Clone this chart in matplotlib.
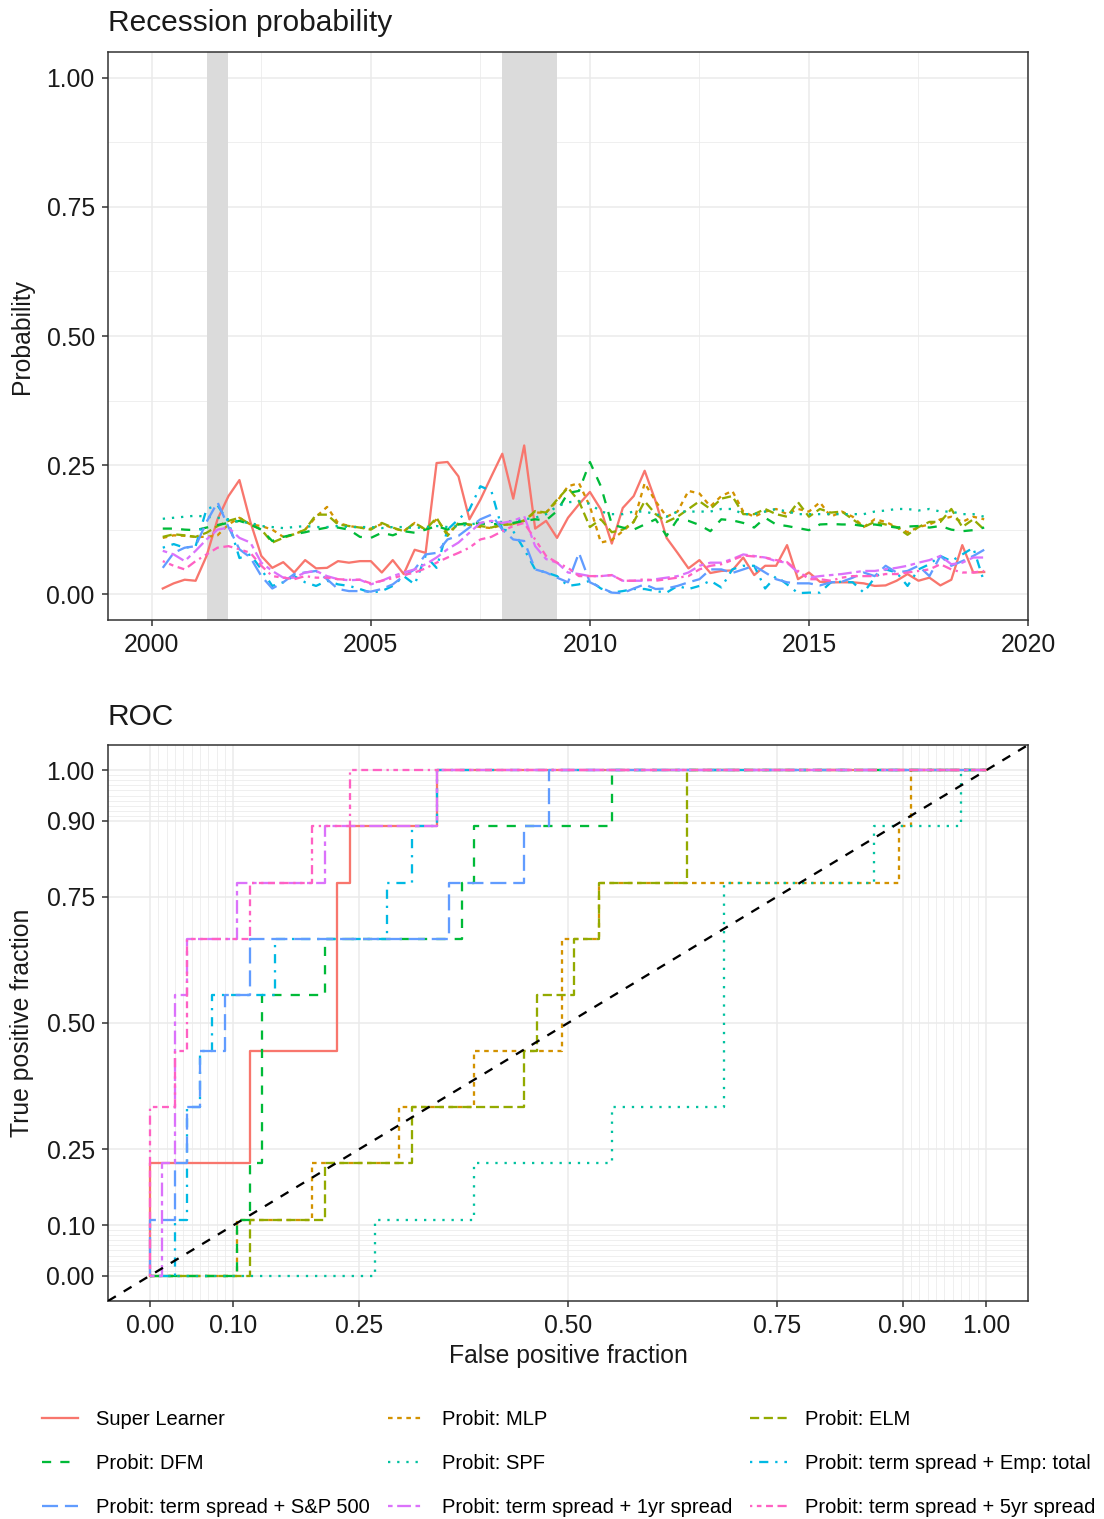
import numpy as np
import pandas as pd
import matplotlib

matplotlib.use("Agg")
import matplotlib.pyplot as plt
from matplotlib.lines import Line2D
from matplotlib.ticker import FixedLocator, FormatStrFormatter

plt.rcParams["font.family"] = ["Liberation Sans", "DejaVu Sans"]

# --------------------------------------------------------------------------- #
# Data
# --------------------------------------------------------------------------- #
QUARTERS = pd.period_range("2000Q2", "2019Q1", freq="Q")

MODELS = [
    "Super Learner",
    "Probit: MLP",
    "Probit: ELM",
    "Probit: DFM",
    "Probit: SPF",
    "Probit: term spread + Emp: total",
    "Probit: term spread + S&P 500",
    "Probit: term spread + 1yr spread",
    "Probit: term spread + 5yr spread",
]

prob_super_learner = [
    0.011, 0.021, 0.028, 0.026, 0.074, 0.145, 0.190, 0.221, 0.140, 0.074,
    0.051, 0.062, 0.042, 0.066, 0.050, 0.051, 0.064, 0.061, 0.064,
    0.064, 0.042, 0.066, 0.039, 0.086, 0.080, 0.254, 0.256, 0.228, 0.145,
    0.183, 0.228, 0.272, 0.185, 0.288, 0.127, 0.142, 0.109, 0.148,
    0.174, 0.198, 0.164, 0.098, 0.167, 0.190, 0.239, 0.180, 0.109, 0.080,
    0.050, 0.066, 0.041, 0.045, 0.046, 0.071, 0.037, 0.055, 0.055, 0.095,
    0.029, 0.042, 0.024, 0.023, 0.023, 0.023, 0.021, 0.016, 0.017, 0.026,
    0.039, 0.026, 0.032, 0.017, 0.028, 0.095, 0.042, 0.043,
]
prob_mlp = [
    0.109, 0.114, 0.113, 0.111, 0.111, 0.114, 0.135, 0.148, 0.135, 0.132,
    0.125, 0.111, 0.116, 0.125, 0.150, 0.169, 0.138, 0.132, 0.129,
    0.127, 0.136, 0.128, 0.122, 0.138, 0.125, 0.145, 0.118, 0.136, 0.134,
    0.130, 0.128, 0.134, 0.136, 0.143, 0.158, 0.158, 0.180, 0.209,
    0.215, 0.170, 0.100, 0.105, 0.122, 0.140, 0.215, 0.180, 0.150, 0.160,
    0.200, 0.195, 0.170, 0.190, 0.200, 0.160, 0.150, 0.160, 0.165, 0.155,
    0.165, 0.160, 0.178, 0.150, 0.160, 0.150, 0.130, 0.145, 0.140, 0.130,
    0.120, 0.130, 0.135, 0.145, 0.150, 0.140, 0.150, 0.145,
]
prob_elm = [
    0.111, 0.116, 0.114, 0.111, 0.119, 0.132, 0.142, 0.148, 0.135, 0.125,
    0.100, 0.109, 0.116, 0.125, 0.154, 0.154, 0.135, 0.132, 0.129,
    0.125, 0.138, 0.129, 0.122, 0.138, 0.125, 0.148, 0.113, 0.138, 0.135,
    0.132, 0.129, 0.135, 0.135, 0.142, 0.161, 0.158, 0.183, 0.206,
    0.180, 0.130, 0.145, 0.120, 0.125, 0.140, 0.180, 0.155, 0.140, 0.150,
    0.165, 0.180, 0.165, 0.185, 0.190, 0.155, 0.155, 0.165, 0.155, 0.150,
    0.178, 0.150, 0.165, 0.158, 0.160, 0.145, 0.130, 0.140, 0.135, 0.130,
    0.115, 0.130, 0.140, 0.140, 0.165, 0.130, 0.145, 0.125,
]
prob_dfm = [
    0.127, 0.127, 0.125, 0.124, 0.129, 0.134, 0.138, 0.142, 0.135, 0.125,
    0.103, 0.111, 0.116, 0.120, 0.125, 0.129, 0.129, 0.125, 0.111,
    0.109, 0.119, 0.114, 0.122, 0.119, 0.125, 0.132, 0.125, 0.135, 0.138,
    0.137, 0.135, 0.137, 0.138, 0.142, 0.145, 0.143, 0.161, 0.196,
    0.200, 0.256, 0.209, 0.135, 0.129, 0.125, 0.135, 0.145, 0.113, 0.145,
    0.142, 0.134, 0.122, 0.145, 0.143, 0.138, 0.129, 0.148, 0.135, 0.132,
    0.128, 0.124, 0.135, 0.136, 0.135, 0.135, 0.132, 0.135, 0.132, 0.129,
    0.131, 0.132, 0.129, 0.132, 0.125, 0.122, 0.124, 0.129,
]
prob_spf = [
    0.146, 0.148, 0.150, 0.152, 0.150, 0.148, 0.145, 0.140, 0.138, 0.132,
    0.130, 0.128, 0.130, 0.132, 0.130, 0.130, 0.132, 0.130, 0.130,
    0.130, 0.128, 0.130, 0.130, 0.128, 0.130, 0.132, 0.130, 0.132, 0.135,
    0.138, 0.140, 0.140, 0.142, 0.145, 0.148, 0.155, 0.170, 0.178,
    0.180, 0.175, 0.160, 0.155, 0.155, 0.160, 0.160, 0.155, 0.150, 0.160,
    0.160, 0.160, 0.160, 0.165, 0.165, 0.155, 0.155, 0.160, 0.165, 0.160,
    0.155, 0.155, 0.155, 0.155, 0.155, 0.155, 0.155, 0.160, 0.162, 0.165,
    0.165, 0.162, 0.165, 0.160, 0.160, 0.155, 0.155, 0.150,
]
prob_emp_total = [
    0.090, 0.097, 0.090, 0.093, 0.165, 0.172, 0.140, 0.070, 0.077, 0.048,
    0.016, 0.023, 0.035, 0.023, 0.016, 0.026, 0.019, 0.016, 0.010,
    0.003, 0.006, 0.016, 0.035, 0.019, 0.074, 0.051, 0.125, 0.145, 0.164,
    0.209, 0.200, 0.125, 0.122, 0.087, 0.048, 0.042, 0.035, 0.016,
    0.019, 0.026, 0.011, 0.003, 0.006, 0.010, 0.010, 0.006, 0.003, 0.016,
    0.010, 0.016, 0.026, 0.013, 0.048, 0.055, 0.055, 0.011, 0.035, 0.019,
    0.002, 0.003, 0.003, 0.023, 0.024, 0.023, 0.003, 0.032, 0.048, 0.042,
    0.016, 0.048, 0.058, 0.074, 0.064, 0.077, 0.090, 0.023,
]
prob_sp500 = [
    0.051, 0.080, 0.090, 0.093, 0.140, 0.178, 0.130, 0.087, 0.071, 0.035,
    0.011, 0.023, 0.039, 0.042, 0.045, 0.029, 0.010, 0.006, 0.006,
    0.005, 0.010, 0.019, 0.035, 0.048, 0.077, 0.080, 0.106, 0.113, 0.129,
    0.145, 0.154, 0.125, 0.106, 0.103, 0.048, 0.042, 0.032, 0.023,
    0.080, 0.023, 0.013, 0.003, 0.002, 0.011, 0.019, 0.010, 0.011, 0.016,
    0.023, 0.029, 0.048, 0.048, 0.041, 0.048, 0.055, 0.042, 0.029, 0.023,
    0.021, 0.021, 0.017, 0.023, 0.024, 0.032, 0.042, 0.035, 0.055, 0.042,
    0.045, 0.055, 0.035, 0.074, 0.055, 0.064, 0.074, 0.086,
]
prob_1yr_spread = [
    0.084, 0.077, 0.064, 0.084, 0.106, 0.125, 0.129, 0.109, 0.100, 0.061,
    0.045, 0.032, 0.032, 0.042, 0.045, 0.035, 0.029, 0.027, 0.028,
    0.019, 0.026, 0.035, 0.042, 0.048, 0.058, 0.071, 0.087, 0.100, 0.119,
    0.138, 0.142, 0.138, 0.142, 0.151, 0.093, 0.068, 0.061, 0.042,
    0.039, 0.035, 0.035, 0.037, 0.026, 0.026, 0.026, 0.029, 0.032, 0.035,
    0.042, 0.055, 0.061, 0.061, 0.068, 0.077, 0.074, 0.071, 0.064, 0.061,
    0.042, 0.032, 0.035, 0.037, 0.039, 0.042, 0.045, 0.045, 0.048, 0.051,
    0.055, 0.061, 0.066, 0.074, 0.058, 0.061, 0.071, 0.071,
]
prob_5yr_spread = [
    0.064, 0.055, 0.048, 0.064, 0.077, 0.090, 0.093, 0.087, 0.080, 0.055,
    0.035, 0.032, 0.029, 0.035, 0.032, 0.032, 0.029, 0.028, 0.028,
    0.021, 0.026, 0.031, 0.037, 0.042, 0.050, 0.061, 0.071, 0.080, 0.090,
    0.106, 0.111, 0.122, 0.132, 0.138, 0.106, 0.074, 0.061, 0.051,
    0.035, 0.035, 0.035, 0.037, 0.026, 0.026, 0.029, 0.026, 0.029, 0.032,
    0.035, 0.048, 0.055, 0.058, 0.066, 0.075, 0.073, 0.071, 0.066, 0.062,
    0.045, 0.029, 0.029, 0.026, 0.032, 0.035, 0.035, 0.035, 0.039, 0.039,
    0.042, 0.045, 0.048, 0.058, 0.048, 0.042, 0.042, 0.045,
]

RECESSIONS = [(2001.25, 2001.75), (2008.0, 2009.25)]

# ROC step paths as (false positives, true positives) counts
N_NEG, N_POS = 67, 9
roc_super_learner = [(0, 0), (0, 2), (8, 2), (8, 4), (15, 4), (15, 7), (16, 7),
                     (16, 8), (23, 8), (23, 9), (67, 9)]
roc_mlp = [(0, 0), (7, 0), (7, 1), (13, 1), (13, 2), (20, 2), (20, 3), (26, 3),
           (26, 4), (33, 4), (33, 6), (36, 6), (36, 7), (60, 7), (60, 8),
           (61, 8), (61, 9), (67, 9)]
roc_elm = [(0, 0), (8, 0), (8, 1), (14, 1), (14, 2), (21, 2), (21, 3), (30, 3),
           (30, 4), (31, 4), (31, 5), (34, 5), (34, 6), (36, 6), (36, 7),
           (43, 7), (43, 9), (67, 9)]
roc_dfm = [(0, 0), (7, 0), (7, 1), (8, 1), (8, 2), (9, 2), (9, 5), (14, 5),
           (14, 6), (25, 6), (25, 7), (26, 7), (26, 8), (37, 8), (37, 9), (67, 9)]
roc_spf = [(0, 0), (18, 0), (18, 1), (26, 1), (26, 2), (37, 2), (37, 3), (46, 3),
           (46, 7), (58, 7), (58, 8), (65, 8), (65, 9), (67, 9)]
roc_emp_total = [(0, 0), (2, 0), (2, 1), (3, 1), (3, 3), (4, 3), (4, 4), (5, 4),
                 (5, 5), (10, 5), (10, 6), (19, 6), (19, 7), (21, 7), (21, 8),
                 (23, 8), (23, 9), (67, 9)]
roc_sp500 = [(0, 0), (0, 1), (2, 1), (2, 2), (3, 2), (3, 3), (4, 3), (4, 4),
             (6, 4), (6, 5), (8, 5), (8, 6), (24, 6), (24, 7), (30, 7), (30, 8),
             (32, 8), (32, 9), (67, 9)]
roc_1yr_spread = [(0, 0), (1, 0), (1, 2), (2, 2), (2, 5), (3, 5), (3, 6), (7, 6),
                  (7, 7), (14, 7), (14, 8), (23, 8), (23, 9), (67, 9)]
roc_5yr_spread = [(0, 0), (0, 3), (2, 3), (2, 4), (3, 4), (3, 6), (8, 6), (8, 7),
                  (13, 7), (13, 8), (16, 8), (16, 9), (67, 9)]

# --------------------------------------------------------------------------- #
# Styling (ggplot2 theme_bw look-alike)
# --------------------------------------------------------------------------- #
COLORS = ["#F8766D", "#D39200", "#93AA00", "#00BA38", "#00C19F",
          "#00B9E3", "#619CFF", "#DB72FB", "#FF61C3"]
DASHES = [None, (2, 2), (4, 2), (4, 4), (1, 3), (1, 3, 4, 3), (7, 3),
          (2, 2, 6, 2), (1, 2, 2, 2, 3, 2, 4, 2)]
LINE_W = 1.65
TICK_SIZE = 17.8
TEXT_COL = "#1A1A1A"
W, H = 1104, 1519


def linestyle(d):
    return "-" if d is None else (0, d)


def style_axes(ax):
    for s in ax.spines.values():
        s.set_color("#333333")
        s.set_linewidth(1.1)
    ax.tick_params(which="major", length=4, width=1.1, color="#333333",
                   labelsize=TICK_SIZE, labelcolor=TEXT_COL, pad=5.5)
    ax.tick_params(which="minor", length=0)
    ax.grid(which="major", color="#EBEBEB", linewidth=1.1)
    ax.grid(which="minor", color="#EBEBEB", linewidth=0.55)
    ax.set_axisbelow(True)


fig = plt.figure(figsize=(W / 100, H / 100), dpi=100)

# --- Recession probability ---
t = QUARTERS.year + (QUARTERS.quarter - 1) / 4
series = [prob_super_learner, prob_mlp, prob_elm, prob_dfm, prob_spf,
          prob_emp_total, prob_sp500, prob_1yr_spread, prob_5yr_spread]

ax1 = fig.add_axes([108 / W, 1 - 620 / H, 920 / W, 568 / H])
style_axes(ax1)
for start, end in RECESSIONS:
    ax1.axvspan(start, end, color="#DBDBDB", lw=0, zorder=1)
for name, vals, col, d in zip(MODELS, series, COLORS, DASHES):
    ax1.plot(t, vals, color=col, lw=LINE_W, linestyle=linestyle(d), zorder=2)
ax1.set_xlim(1999, 2020)
ax1.set_ylim(-0.05, 1.05)
ax1.xaxis.set_major_locator(FixedLocator([2000, 2005, 2010, 2015, 2020]))
ax1.xaxis.set_minor_locator(FixedLocator([2002.5, 2007.5, 2012.5, 2017.5]))
ax1.yaxis.set_major_locator(FixedLocator([0, 0.25, 0.5, 0.75, 1.0]))
ax1.yaxis.set_minor_locator(FixedLocator([0.125, 0.375, 0.625, 0.875]))
ax1.yaxis.set_major_formatter(FormatStrFormatter("%.2f"))
fig.text(108 / W, 1 - 31 / H, "Recession probability", fontsize=21.5,
         va="baseline", color=TEXT_COL)
fig.text(22 / W, 1 - 336 / H, "Probability", fontsize=TICK_SIZE, rotation=90,
         ha="center", va="center", color=TEXT_COL)

# --- ROC ---
rocs = [roc_super_learner, roc_mlp, roc_elm, roc_dfm, roc_spf, roc_emp_total,
        roc_sp500, roc_1yr_spread, roc_5yr_spread]
breaks = [0, 0.1, 0.25, 0.5, 0.75, 0.9, 1.0]
minor = list(np.round(np.arange(0, 0.1, 0.01), 2)) + \
    list(np.round(np.arange(0.91, 1.0, 0.01), 2))

ax2 = fig.add_axes([108 / W, 1 - 1301 / H, 920 / W, 556 / H])
style_axes(ax2)
for vert, col, d in zip(rocs, COLORS, DASHES):
    fp, tp = zip(*vert)
    ax2.plot(np.array(fp) / N_NEG, np.array(tp) / N_POS, color=col, lw=LINE_W,
             linestyle=linestyle(d), zorder=2)
ax2.axline((0, 0), (1, 1), color="black", lw=LINE_W, linestyle=(0, (4, 4)),
           zorder=3)
ax2.set_xlim(-0.05, 1.05)
ax2.set_ylim(-0.05, 1.05)
for axis in (ax2.xaxis, ax2.yaxis):
    axis.set_major_locator(FixedLocator(breaks))
    axis.set_minor_locator(FixedLocator(minor))
    axis.set_major_formatter(FormatStrFormatter("%.2f"))
fig.text(108 / W, 1 - 725 / H, "ROC", fontsize=21.5, va="baseline",
         color=TEXT_COL)
fig.text(22 / W, 1 - 1023 / H, "True positive fraction", fontsize=TICK_SIZE,
         rotation=90, ha="center", va="center", color=TEXT_COL)
fig.text(568 / W, 1 - 1356 / H, "False positive fraction", fontsize=TICK_SIZE,
         ha="center", va="center", color=TEXT_COL)

# --- Legend (ggplot fills by row, matplotlib by column) ---
handles = [Line2D([], [], color=c, lw=LINE_W, linestyle=linestyle(d))
           for c, d in zip(COLORS, DASHES)]
order = [0, 3, 6, 1, 4, 7, 2, 5, 8]
fig.legend([handles[i] for i in order], [MODELS[i] for i in order],
           ncol=3, loc="upper left", bbox_to_anchor=(42 / W, 1 - 1410 / H),
           frameon=False, fontsize=14.5, handlelength=1.8, handletextpad=0.9,
           columnspacing=0.88, labelspacing=1.25, borderpad=0, borderaxespad=0)

fig.savefig("out.png", dpi=100)
